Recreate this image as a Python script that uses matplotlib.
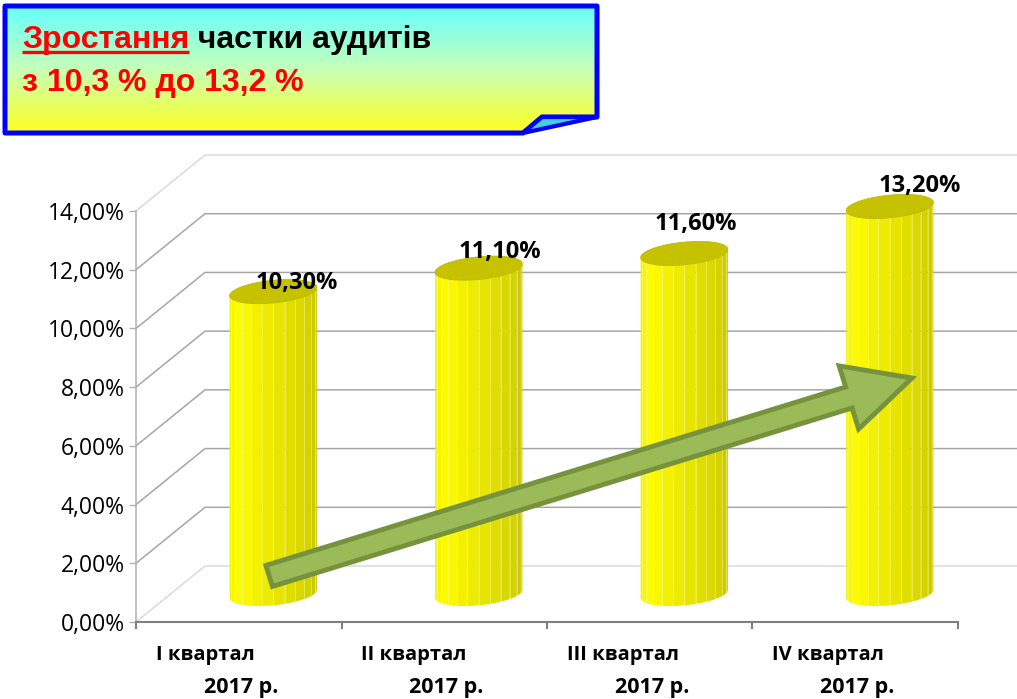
import numpy as np
import matplotlib
matplotlib.use("Agg")
import matplotlib.pyplot as plt
from matplotlib.patches import Polygon
from matplotlib.transforms import IdentityTransform

# ---- data -------------------------------------------------------------
categories = ["I квартал", "II квартал", "III квартал", "IV квартал"]
year_labels = ["2017 р.", "2017 р.", "2017 р.", "2017 р."]
shares = [10.30, 11.10, 11.60, 13.20]
value_labels = ["10,30%", "11,10%", "11,60%", "13,20%"]
y_ticks = [0, 2, 4, 6, 8, 10, 12, 14]
y_tick_labels = ["0,00%", "2,00%", "4,00%", "6,00%", "8,00%", "10,00%", "12,00%", "14,00%"]
title_red = "Зростання"
title_black = " частки аудитів"
subtitle = "з 10,3 % до 13,2 %"

# trend arrow, from / to (category position, percent)
arrow_from = (0.648, 1.57)
arrow_to = (3.776, 8.31)

# label nudges above each cylinder (pixels)
label_nudge = [(24, 9), (21, 16), (12, 29), (30, 20)]

CHART_FONT = ["Open Sans", "DejaVu Sans"]
TITLE_FONT = ["Liberation Sans", "DejaVu Sans"]

W_PX, H_PX = 1017, 699
fig = plt.figure(figsize=(W_PX / 100, H_PX / 100), dpi=100)
fig.patch.set_facecolor("white")

# front plane of the pseudo-3D plot area (pixel bounds)
left, right, bottom, top = 136, 958, 622, 211
ax = fig.add_axes([left / W_PX, 1 - bottom / H_PX,
                   (right - left) / W_PX, (bottom - top) / H_PX])
ax.set_xlim(0, 4)
ax.set_ylim(0, 14)
ax.set_facecolor("none")

px_x = 4 / (right - left)
px_y = 14 / (bottom - top)
DX, DY = 69 * px_x, 56 * px_y          # depth of the plot box

# back wall gridlines with side-wall diagonals
for v in y_ticks:
    col = "#dadada" if v in (0, 14) else "#a6a6a6"
    ax.plot([0, DX, 4 + DX], [v, v + DY, v + DY], color=col, lw=1.1,
            clip_on=False, zorder=1, solid_capstyle="butt")

for s in ("top", "right"):
    ax.spines[s].set_visible(False)
ax.spines["left"].set_color("#b0b0b0")
ax.spines["left"].set_linewidth(1.1)
ax.spines["bottom"].set_color("#7f7f7f")
ax.spines["bottom"].set_linewidth(1.5)

ax.set_yticks(y_ticks, y_tick_labels)
ax.tick_params(axis="y", length=5, width=1, color="#b0b0b0", pad=3,
               labelsize=16.5)
ax.set_xticks([0, 1, 2, 3, 4], [""] * 5)
ax.tick_params(axis="x", length=5, width=1.5, color="#7f7f7f")
for lab in ax.get_yticklabels():
    lab.set_family(CHART_FONT)

# ---- cylinders --------------------------------------------------------
a = 41 * px_x
rz = 0.215
th0 = np.arctan2(rz * 69, 41)


def rim(xc, th, h):
    z = 0.5 + rz * np.sin(th)
    return xc + a * np.cos(th) + z * DX, h + z * DY


n_strips = 12
edges = np.linspace(np.pi + th0, 2 * np.pi + th0, n_strips + 1)
for i, h in enumerate(shares):
    xc = i + 0.5
    for k in range(n_strips):
        t = k / (n_strips - 1)
        f = np.interp(t, [0, 0.2, 1], [0.95, 1.0, 0.78])
        ths = np.linspace(edges[k], edges[k + 1], 10)
        bx, by = rim(xc, ths, 0)
        tx, ty = rim(xc, ths[::-1], h)
        verts = np.column_stack([np.r_[bx, tx], np.r_[by, ty]])
        ax.add_patch(Polygon(verts, closed=True, facecolor=(f, f * 0.99, 0),
                             edgecolor="none", clip_on=False, zorder=3))
    for th in edges[1:-1]:
        x0, y0 = rim(xc, th, 0)
        x1, y1 = rim(xc, th, h)
        ax.plot([x0, x1], [y0, y1], color=(1, 1, 0.55), alpha=0.45, lw=0.7,
                clip_on=False, zorder=3.1)
    ths = np.linspace(0, 2 * np.pi, 120)
    ex, ey = rim(xc, ths, h)
    ax.add_patch(Polygon(np.column_stack([ex, ey]), closed=True,
                         facecolor="#c6c200", edgecolor="#bdb800", lw=0.6,
                         clip_on=False, zorder=3.2))
    cx, cy = xc + 0.5 * DX, h + 0.5 * DY
    ax.annotate(value_labels[i], xy=(cx, cy), xytext=label_nudge[i],
                textcoords="offset pixels", ha="center", va="center",
                fontsize=17, fontweight="bold", family=CHART_FONT,
                annotation_clip=False, zorder=6)

# category labels below the axis
for i, (c, yr) in enumerate(zip(categories, year_labels)):
    ax.annotate(c, xy=(i + 0.5, 0), xycoords=("data", "axes fraction"),
                xytext=(-83, -33), textcoords="offset pixels", ha="left",
                va="center", fontsize=14.5, fontweight="bold",
                family=CHART_FONT, annotation_clip=False)
    ax.annotate(yr, xy=(i + 0.5, 0), xycoords=("data", "axes fraction"),
                xytext=(2, -66), textcoords="offset pixels", ha="center",
                va="center", fontsize=15.5, fontweight="bold",
                family=CHART_FONT, annotation_clip=False)

# ---- trend arrow ------------------------------------------------------
p0 = ax.transData.transform(arrow_from)
p1 = ax.transData.transform(arrow_to)
u = (p1 - p0) / np.linalg.norm(p1 - p0)
nrm = np.array([-u[1], u[0]])
w_shaft, w_head, l_head = 11.0, 33.0, 66.0
neck = p1 - u * l_head
arrow_pts = np.array([
    p0 + nrm * w_shaft, neck + nrm * w_shaft, neck + nrm * w_head, p1,
    neck - nrm * w_head, neck - nrm * w_shaft, p0 - nrm * w_shaft,
])
ax.add_patch(Polygon(arrow_pts, closed=True, transform=IdentityTransform(),
                     facecolor="#9bbb59", edgecolor="#76923c", lw=3.5,
                     joinstyle="miter", clip_on=False, zorder=5))

# ---- title box --------------------------------------------------------
ov = fig.add_axes([0, 0, 1, 1])
ov.set_xlim(0, W_PX)
ov.set_ylim(H_PX, 0)
ov.axis("off")
ov.set_facecolor("none")

box = [(5, 6), (597, 6), (597, 117), (542, 117), (523, 133), (5, 133)]
grad_t = np.linspace(0, 1, 256)
grad = np.zeros((256, 1, 3))
grad[:, 0, 0] = np.interp(grad_t, [0, 0.5, 1], [0.40, 0.78, 1.0])
grad[:, 0, 1] = 1.0
grad[:, 0, 2] = np.interp(grad_t, [0, 0.5, 1], [1.0, 0.72, 0.12])
im = ov.imshow(grad, extent=(5, 597, 133, 6), aspect="auto",
               interpolation="bilinear", zorder=1)
clip = Polygon(box, closed=True, transform=ov.transData, facecolor="none")
im.set_clip_path(clip)
ov.add_patch(Polygon(box, closed=True, facecolor="none", edgecolor="#0000ff",
                     lw=3.6, joinstyle="round", zorder=2))
ov.add_patch(Polygon([(523, 133), (542, 117), (597, 117)], closed=True,
                     facecolor="#44d0dc", edgecolor="#0000ff", lw=3.0,
                     joinstyle="round", zorder=3))
ov.set_xlim(0, W_PX)
ov.set_ylim(H_PX, 0)

renderer = fig.canvas.get_renderer()
t1 = ov.text(22, 48, title_red, color="#ff0000", fontsize=23,
             fontweight="bold", family=TITLE_FONT, va="baseline", zorder=4)
bb = t1.get_window_extent(renderer)
inv = ov.transData.inverted()
(xa, _), (xb, _) = inv.transform([(bb.x0, bb.y0), (bb.x1, bb.y1)])
ov.text(xb, 48, title_black, color="black", fontsize=23, fontweight="bold",
        family=TITLE_FONT, va="baseline", zorder=4)
ov.plot([xa, xb], [52, 52], color="#ff0000", lw=2.4, solid_capstyle="butt",
        zorder=4)
ov.text(22, 91, subtitle, color="#ff0000", fontsize=23, fontweight="bold",
        family=TITLE_FONT, va="baseline", zorder=4)

fig.savefig("out.png", dpi=100)
